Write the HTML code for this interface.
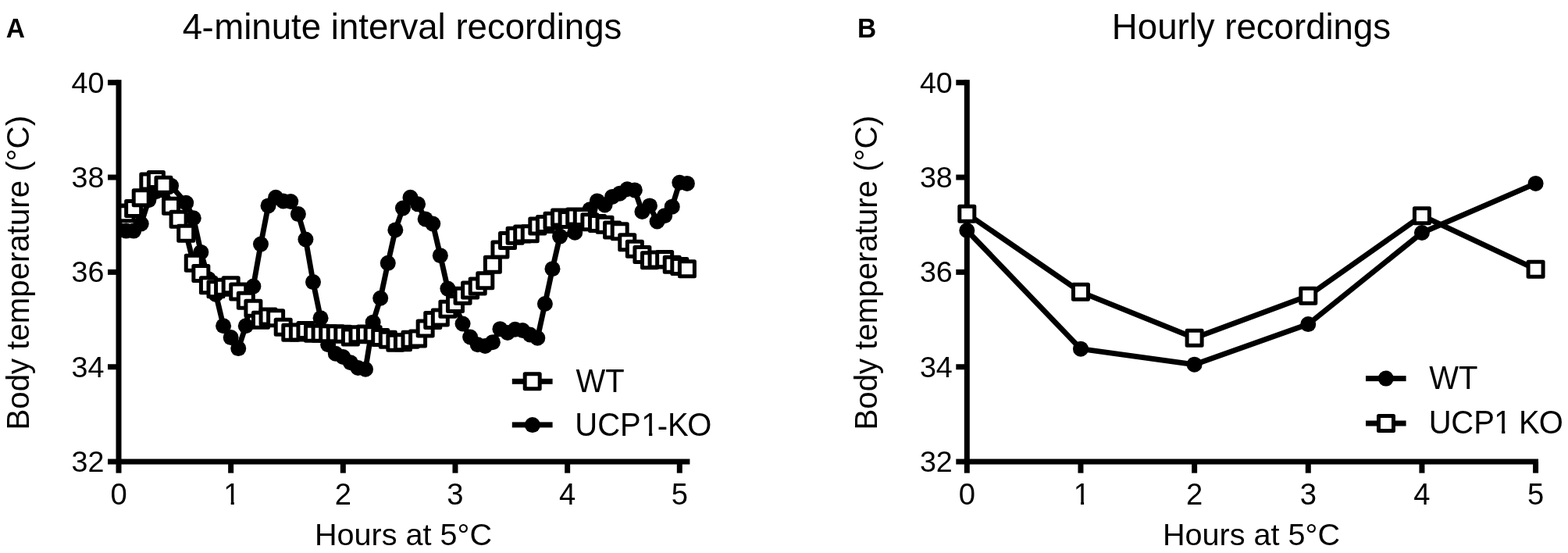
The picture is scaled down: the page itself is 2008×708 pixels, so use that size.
<!DOCTYPE html>
<html lang="en"><head><meta charset="utf-8"><title>Body temperature recordings</title>
<style>html,body{margin:0;padding:0;background:#fff;}svg{display:block;}text{font-family:"Liberation Sans",sans-serif;fill:#000;}</style></head><body>
<svg width="2008" height="708" viewBox="0 0 2008 708">
<rect width="2008" height="708" fill="#fff"/>
<defs><clipPath id="nofoot"><path clip-rule="evenodd" d="M0 0H2008V708H0Z M287.87 642.18h7.83v4.97h-7.83Z M299.79 642.18h7.64v4.97h-7.64Z M822.84 553.90h8.20v5.20h-8.20Z M835.32 553.90h8.00v5.20h-8.00Z M1376.17 642.18h7.83v4.97h-7.83Z M1388.09 642.18h7.64v4.97h-7.64Z M1914.84 550.50h8.20v5.20h-8.20Z M1927.32 550.50h8.00v5.20h-8.00Z"/></clipPath></defs>
<g id="panelA">
<text transform="translate(7.8 48.3) scale(1 1.04)" font-size="33.5" font-weight="bold">A</text>
<text x="515" y="49.6" dx="0 -0.6 0.6" dy="0 1.7 -1.7" font-size="45.6" text-anchor="middle">4-minute interval recordings</text>
<text transform="translate(36.8 349.2) rotate(-90)" font-size="40.2" text-anchor="middle">Body temperature (°C)</text>
<text x="516.5" y="698.4" font-size="39.6" text-anchor="middle">Hours at 5°C</text>
<clipPath id="clipA"><rect x="150" y="0" width="900" height="708"/></clipPath>
<g clip-path="url(#clipA)">
<polyline points="152.00,294.38 161.58,295.60 171.15,295.60 180.73,286.50 190.31,256.16 199.89,245.24 209.46,243.42 219.04,237.66 228.62,248.88 238.20,259.80 247.77,279.22 257.35,322.90 266.93,357.18 276.51,376.89 286.08,417.24 295.66,432.10 305.24,446.06 314.81,417.24 324.39,366.58 333.97,312.58 343.55,263.44 353.12,252.82 362.70,257.38 372.28,257.98 381.86,274.06 391.43,306.52 401.01,361.12 410.59,407.23 420.17,441.21 429.74,452.73 439.32,456.98 448.90,464.26 458.47,470.93 468.05,472.75 477.63,412.69 487.21,381.75 496.78,336.85 506.36,294.38 515.94,266.48 525.52,252.82 535.09,261.32 544.67,280.43 554.25,286.50 563.83,327.15 573.40,369.61 582.98,390.85 592.56,414.51 602.13,431.50 611.71,441.21 621.29,443.03 630.87,438.17 640.44,421.18 650.02,426.04 659.60,421.79 669.18,423.00 678.75,428.46 688.33,432.71 697.91,389.03 707.49,344.13 717.06,302.57 726.64,300.15 736.22,297.72 745.79,282.86 755.37,268.30 764.95,257.38 774.53,262.53 784.10,251.91 793.68,247.67 803.26,242.21 812.84,243.42 822.41,271.03 831.99,263.44 841.57,283.46 851.15,276.18 860.72,264.66 870.30,233.71 879.88,234.93" fill="none" stroke="#000" stroke-width="6.9" stroke-linejoin="round" stroke-linecap="butt"/>
<circle cx="152.00" cy="294.38" r="10.0" fill="#000"/>
<circle cx="161.58" cy="295.60" r="10.0" fill="#000"/>
<circle cx="171.15" cy="295.60" r="10.0" fill="#000"/>
<circle cx="180.73" cy="286.50" r="10.0" fill="#000"/>
<circle cx="190.31" cy="256.16" r="10.0" fill="#000"/>
<circle cx="199.89" cy="245.24" r="10.0" fill="#000"/>
<circle cx="209.46" cy="243.42" r="10.0" fill="#000"/>
<circle cx="219.04" cy="237.66" r="10.0" fill="#000"/>
<circle cx="238.20" cy="259.80" r="10.0" fill="#000"/>
<circle cx="247.77" cy="279.22" r="10.0" fill="#000"/>
<circle cx="257.35" cy="322.90" r="10.0" fill="#000"/>
<circle cx="266.93" cy="357.18" r="10.0" fill="#000"/>
<circle cx="276.51" cy="376.89" r="10.0" fill="#000"/>
<circle cx="286.08" cy="417.24" r="10.0" fill="#000"/>
<circle cx="295.66" cy="432.10" r="10.0" fill="#000"/>
<circle cx="305.24" cy="446.06" r="10.0" fill="#000"/>
<circle cx="314.81" cy="417.24" r="10.0" fill="#000"/>
<circle cx="324.39" cy="366.58" r="10.0" fill="#000"/>
<circle cx="333.97" cy="312.58" r="10.0" fill="#000"/>
<circle cx="343.55" cy="263.44" r="10.0" fill="#000"/>
<circle cx="353.12" cy="252.82" r="10.0" fill="#000"/>
<circle cx="362.70" cy="257.38" r="10.0" fill="#000"/>
<circle cx="372.28" cy="257.98" r="10.0" fill="#000"/>
<circle cx="381.86" cy="274.06" r="10.0" fill="#000"/>
<circle cx="391.43" cy="306.52" r="10.0" fill="#000"/>
<circle cx="401.01" cy="361.12" r="10.0" fill="#000"/>
<circle cx="410.59" cy="407.23" r="10.0" fill="#000"/>
<circle cx="420.17" cy="441.21" r="10.0" fill="#000"/>
<circle cx="429.74" cy="452.73" r="10.0" fill="#000"/>
<circle cx="439.32" cy="456.98" r="10.0" fill="#000"/>
<circle cx="448.90" cy="464.26" r="10.0" fill="#000"/>
<circle cx="458.47" cy="470.93" r="10.0" fill="#000"/>
<circle cx="468.05" cy="472.75" r="10.0" fill="#000"/>
<circle cx="477.63" cy="412.69" r="10.0" fill="#000"/>
<circle cx="487.21" cy="381.75" r="10.0" fill="#000"/>
<circle cx="496.78" cy="336.85" r="10.0" fill="#000"/>
<circle cx="506.36" cy="294.38" r="10.0" fill="#000"/>
<circle cx="515.94" cy="266.48" r="10.0" fill="#000"/>
<circle cx="525.52" cy="252.82" r="10.0" fill="#000"/>
<circle cx="535.09" cy="261.32" r="10.0" fill="#000"/>
<circle cx="544.67" cy="280.43" r="10.0" fill="#000"/>
<circle cx="554.25" cy="286.50" r="10.0" fill="#000"/>
<circle cx="563.83" cy="327.15" r="10.0" fill="#000"/>
<circle cx="573.40" cy="369.61" r="10.0" fill="#000"/>
<circle cx="582.98" cy="390.85" r="10.0" fill="#000"/>
<circle cx="592.56" cy="414.51" r="10.0" fill="#000"/>
<circle cx="602.13" cy="431.50" r="10.0" fill="#000"/>
<circle cx="611.71" cy="441.21" r="10.0" fill="#000"/>
<circle cx="621.29" cy="443.03" r="10.0" fill="#000"/>
<circle cx="630.87" cy="438.17" r="10.0" fill="#000"/>
<circle cx="640.44" cy="421.18" r="10.0" fill="#000"/>
<circle cx="650.02" cy="426.04" r="10.0" fill="#000"/>
<circle cx="659.60" cy="421.79" r="10.0" fill="#000"/>
<circle cx="669.18" cy="423.00" r="10.0" fill="#000"/>
<circle cx="678.75" cy="428.46" r="10.0" fill="#000"/>
<circle cx="688.33" cy="432.71" r="10.0" fill="#000"/>
<circle cx="697.91" cy="389.03" r="10.0" fill="#000"/>
<circle cx="707.49" cy="344.13" r="10.0" fill="#000"/>
<circle cx="717.06" cy="302.57" r="10.0" fill="#000"/>
<circle cx="736.22" cy="297.72" r="10.0" fill="#000"/>
<circle cx="755.37" cy="268.30" r="10.0" fill="#000"/>
<circle cx="764.95" cy="257.38" r="10.0" fill="#000"/>
<circle cx="774.53" cy="262.53" r="10.0" fill="#000"/>
<circle cx="784.10" cy="251.91" r="10.0" fill="#000"/>
<circle cx="793.68" cy="247.67" r="10.0" fill="#000"/>
<circle cx="803.26" cy="242.21" r="10.0" fill="#000"/>
<circle cx="812.84" cy="243.42" r="10.0" fill="#000"/>
<circle cx="822.41" cy="271.03" r="10.0" fill="#000"/>
<circle cx="831.99" cy="263.44" r="10.0" fill="#000"/>
<circle cx="841.57" cy="283.46" r="10.0" fill="#000"/>
<circle cx="851.15" cy="276.18" r="10.0" fill="#000"/>
<circle cx="860.72" cy="264.66" r="10.0" fill="#000"/>
<circle cx="870.30" cy="233.71" r="10.0" fill="#000"/>
<circle cx="879.88" cy="234.93" r="10.0" fill="#000"/>
<polyline points="152.00,272.54 161.58,273.15 171.15,267.08 180.73,253.13 190.31,232.50 199.89,230.07 209.46,236.75 219.04,263.75 228.62,280.73 238.20,298.63 247.77,336.85 257.35,349.90 266.93,365.37 276.51,370.22 286.08,367.79 295.66,365.37 305.24,373.56 314.81,384.78 324.39,394.79 333.97,409.66 343.55,405.41 353.12,407.23 362.70,418.76 372.28,425.73 381.86,425.43 391.43,423.00 401.01,426.64 410.59,426.64 420.17,427.25 429.74,427.25 439.32,427.86 448.90,431.50 458.47,428.16 468.05,427.55 477.63,428.16 487.21,432.10 496.78,434.83 506.36,438.78 515.94,438.17 525.52,434.83 535.09,433.62 544.67,420.58 554.25,409.96 563.83,406.62 573.40,395.70 582.98,389.03 592.56,378.71 602.13,371.43 611.71,366.58 621.29,359.30 630.87,338.67 640.44,319.56 650.02,308.03 659.60,301.66 669.18,299.54 678.75,299.24 688.33,289.53 697.91,287.10 707.49,282.86 717.06,278.61 726.64,281.04 736.22,277.40 745.79,278.00 755.37,284.37 764.95,285.89 774.53,287.71 784.10,294.38 793.68,296.20 803.26,310.16 812.84,318.65 822.41,325.93 831.99,333.21 841.57,332.61 851.15,332.00 860.72,338.67 870.30,341.10 879.88,344.13" fill="none" stroke="#000" stroke-width="6.9" stroke-linejoin="round" stroke-linecap="butt"/>
<rect x="142.50" y="263.04" width="19.0" height="19.0" fill="#fff" stroke="#000" stroke-width="5.0" stroke-linejoin="round"/>
<rect x="152.08" y="263.65" width="19.0" height="19.0" fill="#fff" stroke="#000" stroke-width="5.0" stroke-linejoin="round"/>
<rect x="161.65" y="257.58" width="19.0" height="19.0" fill="#fff" stroke="#000" stroke-width="5.0" stroke-linejoin="round"/>
<rect x="171.23" y="243.63" width="19.0" height="19.0" fill="#fff" stroke="#000" stroke-width="5.0" stroke-linejoin="round"/>
<rect x="180.81" y="223.00" width="19.0" height="19.0" fill="#fff" stroke="#000" stroke-width="5.0" stroke-linejoin="round"/>
<rect x="190.39" y="220.57" width="19.0" height="19.0" fill="#fff" stroke="#000" stroke-width="5.0" stroke-linejoin="round"/>
<rect x="199.96" y="227.25" width="19.0" height="19.0" fill="#fff" stroke="#000" stroke-width="5.0" stroke-linejoin="round"/>
<rect x="209.54" y="254.25" width="19.0" height="19.0" fill="#fff" stroke="#000" stroke-width="5.0" stroke-linejoin="round"/>
<rect x="219.12" y="271.23" width="19.0" height="19.0" fill="#fff" stroke="#000" stroke-width="5.0" stroke-linejoin="round"/>
<rect x="228.70" y="289.13" width="19.0" height="19.0" fill="#fff" stroke="#000" stroke-width="5.0" stroke-linejoin="round"/>
<rect x="238.27" y="327.35" width="19.0" height="19.0" fill="#fff" stroke="#000" stroke-width="5.0" stroke-linejoin="round"/>
<rect x="247.85" y="340.40" width="19.0" height="19.0" fill="#fff" stroke="#000" stroke-width="5.0" stroke-linejoin="round"/>
<rect x="257.43" y="355.87" width="19.0" height="19.0" fill="#fff" stroke="#000" stroke-width="5.0" stroke-linejoin="round"/>
<rect x="267.01" y="360.72" width="19.0" height="19.0" fill="#fff" stroke="#000" stroke-width="5.0" stroke-linejoin="round"/>
<rect x="276.58" y="358.29" width="19.0" height="19.0" fill="#fff" stroke="#000" stroke-width="5.0" stroke-linejoin="round"/>
<rect x="286.16" y="355.87" width="19.0" height="19.0" fill="#fff" stroke="#000" stroke-width="5.0" stroke-linejoin="round"/>
<rect x="295.74" y="364.06" width="19.0" height="19.0" fill="#fff" stroke="#000" stroke-width="5.0" stroke-linejoin="round"/>
<rect x="305.31" y="375.28" width="19.0" height="19.0" fill="#fff" stroke="#000" stroke-width="5.0" stroke-linejoin="round"/>
<rect x="314.89" y="385.29" width="19.0" height="19.0" fill="#fff" stroke="#000" stroke-width="5.0" stroke-linejoin="round"/>
<rect x="324.47" y="400.16" width="19.0" height="19.0" fill="#fff" stroke="#000" stroke-width="5.0" stroke-linejoin="round"/>
<rect x="334.05" y="395.91" width="19.0" height="19.0" fill="#fff" stroke="#000" stroke-width="5.0" stroke-linejoin="round"/>
<rect x="343.62" y="397.73" width="19.0" height="19.0" fill="#fff" stroke="#000" stroke-width="5.0" stroke-linejoin="round"/>
<rect x="353.20" y="409.26" width="19.0" height="19.0" fill="#fff" stroke="#000" stroke-width="5.0" stroke-linejoin="round"/>
<rect x="362.78" y="416.23" width="19.0" height="19.0" fill="#fff" stroke="#000" stroke-width="5.0" stroke-linejoin="round"/>
<rect x="372.36" y="415.93" width="19.0" height="19.0" fill="#fff" stroke="#000" stroke-width="5.0" stroke-linejoin="round"/>
<rect x="381.93" y="413.50" width="19.0" height="19.0" fill="#fff" stroke="#000" stroke-width="5.0" stroke-linejoin="round"/>
<rect x="391.51" y="417.14" width="19.0" height="19.0" fill="#fff" stroke="#000" stroke-width="5.0" stroke-linejoin="round"/>
<rect x="401.09" y="417.14" width="19.0" height="19.0" fill="#fff" stroke="#000" stroke-width="5.0" stroke-linejoin="round"/>
<rect x="410.67" y="417.75" width="19.0" height="19.0" fill="#fff" stroke="#000" stroke-width="5.0" stroke-linejoin="round"/>
<rect x="420.24" y="417.75" width="19.0" height="19.0" fill="#fff" stroke="#000" stroke-width="5.0" stroke-linejoin="round"/>
<rect x="429.82" y="418.36" width="19.0" height="19.0" fill="#fff" stroke="#000" stroke-width="5.0" stroke-linejoin="round"/>
<rect x="439.40" y="422.00" width="19.0" height="19.0" fill="#fff" stroke="#000" stroke-width="5.0" stroke-linejoin="round"/>
<rect x="448.97" y="418.66" width="19.0" height="19.0" fill="#fff" stroke="#000" stroke-width="5.0" stroke-linejoin="round"/>
<rect x="458.55" y="418.05" width="19.0" height="19.0" fill="#fff" stroke="#000" stroke-width="5.0" stroke-linejoin="round"/>
<rect x="468.13" y="418.66" width="19.0" height="19.0" fill="#fff" stroke="#000" stroke-width="5.0" stroke-linejoin="round"/>
<rect x="477.71" y="422.60" width="19.0" height="19.0" fill="#fff" stroke="#000" stroke-width="5.0" stroke-linejoin="round"/>
<rect x="487.28" y="425.33" width="19.0" height="19.0" fill="#fff" stroke="#000" stroke-width="5.0" stroke-linejoin="round"/>
<rect x="496.86" y="429.28" width="19.0" height="19.0" fill="#fff" stroke="#000" stroke-width="5.0" stroke-linejoin="round"/>
<rect x="506.44" y="428.67" width="19.0" height="19.0" fill="#fff" stroke="#000" stroke-width="5.0" stroke-linejoin="round"/>
<rect x="516.02" y="425.33" width="19.0" height="19.0" fill="#fff" stroke="#000" stroke-width="5.0" stroke-linejoin="round"/>
<rect x="525.59" y="424.12" width="19.0" height="19.0" fill="#fff" stroke="#000" stroke-width="5.0" stroke-linejoin="round"/>
<rect x="535.17" y="411.08" width="19.0" height="19.0" fill="#fff" stroke="#000" stroke-width="5.0" stroke-linejoin="round"/>
<rect x="544.75" y="400.46" width="19.0" height="19.0" fill="#fff" stroke="#000" stroke-width="5.0" stroke-linejoin="round"/>
<rect x="554.33" y="397.12" width="19.0" height="19.0" fill="#fff" stroke="#000" stroke-width="5.0" stroke-linejoin="round"/>
<rect x="563.90" y="386.20" width="19.0" height="19.0" fill="#fff" stroke="#000" stroke-width="5.0" stroke-linejoin="round"/>
<rect x="573.48" y="379.53" width="19.0" height="19.0" fill="#fff" stroke="#000" stroke-width="5.0" stroke-linejoin="round"/>
<rect x="583.06" y="369.21" width="19.0" height="19.0" fill="#fff" stroke="#000" stroke-width="5.0" stroke-linejoin="round"/>
<rect x="592.63" y="361.93" width="19.0" height="19.0" fill="#fff" stroke="#000" stroke-width="5.0" stroke-linejoin="round"/>
<rect x="602.21" y="357.08" width="19.0" height="19.0" fill="#fff" stroke="#000" stroke-width="5.0" stroke-linejoin="round"/>
<rect x="611.79" y="349.80" width="19.0" height="19.0" fill="#fff" stroke="#000" stroke-width="5.0" stroke-linejoin="round"/>
<rect x="621.37" y="329.17" width="19.0" height="19.0" fill="#fff" stroke="#000" stroke-width="5.0" stroke-linejoin="round"/>
<rect x="630.94" y="310.06" width="19.0" height="19.0" fill="#fff" stroke="#000" stroke-width="5.0" stroke-linejoin="round"/>
<rect x="640.52" y="298.53" width="19.0" height="19.0" fill="#fff" stroke="#000" stroke-width="5.0" stroke-linejoin="round"/>
<rect x="650.10" y="292.16" width="19.0" height="19.0" fill="#fff" stroke="#000" stroke-width="5.0" stroke-linejoin="round"/>
<rect x="659.68" y="290.04" width="19.0" height="19.0" fill="#fff" stroke="#000" stroke-width="5.0" stroke-linejoin="round"/>
<rect x="669.25" y="289.74" width="19.0" height="19.0" fill="#fff" stroke="#000" stroke-width="5.0" stroke-linejoin="round"/>
<rect x="678.83" y="280.03" width="19.0" height="19.0" fill="#fff" stroke="#000" stroke-width="5.0" stroke-linejoin="round"/>
<rect x="688.41" y="277.60" width="19.0" height="19.0" fill="#fff" stroke="#000" stroke-width="5.0" stroke-linejoin="round"/>
<rect x="697.99" y="273.36" width="19.0" height="19.0" fill="#fff" stroke="#000" stroke-width="5.0" stroke-linejoin="round"/>
<rect x="707.56" y="269.11" width="19.0" height="19.0" fill="#fff" stroke="#000" stroke-width="5.0" stroke-linejoin="round"/>
<rect x="717.14" y="271.54" width="19.0" height="19.0" fill="#fff" stroke="#000" stroke-width="5.0" stroke-linejoin="round"/>
<rect x="726.72" y="267.90" width="19.0" height="19.0" fill="#fff" stroke="#000" stroke-width="5.0" stroke-linejoin="round"/>
<rect x="736.29" y="268.50" width="19.0" height="19.0" fill="#fff" stroke="#000" stroke-width="5.0" stroke-linejoin="round"/>
<rect x="745.87" y="274.87" width="19.0" height="19.0" fill="#fff" stroke="#000" stroke-width="5.0" stroke-linejoin="round"/>
<rect x="755.45" y="276.39" width="19.0" height="19.0" fill="#fff" stroke="#000" stroke-width="5.0" stroke-linejoin="round"/>
<rect x="765.03" y="278.21" width="19.0" height="19.0" fill="#fff" stroke="#000" stroke-width="5.0" stroke-linejoin="round"/>
<rect x="774.60" y="284.88" width="19.0" height="19.0" fill="#fff" stroke="#000" stroke-width="5.0" stroke-linejoin="round"/>
<rect x="784.18" y="286.70" width="19.0" height="19.0" fill="#fff" stroke="#000" stroke-width="5.0" stroke-linejoin="round"/>
<rect x="793.76" y="300.66" width="19.0" height="19.0" fill="#fff" stroke="#000" stroke-width="5.0" stroke-linejoin="round"/>
<rect x="803.34" y="309.15" width="19.0" height="19.0" fill="#fff" stroke="#000" stroke-width="5.0" stroke-linejoin="round"/>
<rect x="812.91" y="316.43" width="19.0" height="19.0" fill="#fff" stroke="#000" stroke-width="5.0" stroke-linejoin="round"/>
<rect x="822.49" y="323.71" width="19.0" height="19.0" fill="#fff" stroke="#000" stroke-width="5.0" stroke-linejoin="round"/>
<rect x="832.07" y="323.11" width="19.0" height="19.0" fill="#fff" stroke="#000" stroke-width="5.0" stroke-linejoin="round"/>
<rect x="841.65" y="322.50" width="19.0" height="19.0" fill="#fff" stroke="#000" stroke-width="5.0" stroke-linejoin="round"/>
<rect x="851.22" y="329.17" width="19.0" height="19.0" fill="#fff" stroke="#000" stroke-width="5.0" stroke-linejoin="round"/>
<rect x="860.80" y="331.60" width="19.0" height="19.0" fill="#fff" stroke="#000" stroke-width="5.0" stroke-linejoin="round"/>
<rect x="870.38" y="334.63" width="19.0" height="19.0" fill="#fff" stroke="#000" stroke-width="5.0" stroke-linejoin="round"/>
</g>
<rect x="148.50" y="102.20" width="7.0" height="503.46" fill="#000"/>
<rect x="138.00" y="587.56" width="745.40" height="7.0" fill="#000"/>
<rect x="138.00" y="102.20" width="14" height="7.0" fill="#000"/>
<rect x="138.00" y="223.54" width="14" height="7.0" fill="#000"/>
<rect x="138.00" y="344.88" width="14" height="7.0" fill="#000"/>
<rect x="138.00" y="466.22" width="14" height="7.0" fill="#000"/>
<rect x="292.16" y="591.06" width="7.0" height="14.6" fill="#000"/>
<rect x="435.82" y="591.06" width="7.0" height="14.6" fill="#000"/>
<rect x="579.48" y="591.06" width="7.0" height="14.6" fill="#000"/>
<rect x="723.14" y="591.06" width="7.0" height="14.6" fill="#000"/>
<rect x="866.80" y="591.06" width="7.0" height="14.6" fill="#000"/>
<text x="133.50" y="118.60" font-size="37.7" text-anchor="end">40</text>
<text x="133.50" y="239.94" font-size="37.7" text-anchor="end">38</text>
<text x="133.50" y="361.28" font-size="37.7" text-anchor="end">36</text>
<text x="133.50" y="482.62" font-size="37.7" text-anchor="end">34</text>
<text x="133.50" y="603.96" font-size="37.7" text-anchor="end">32</text>
<text x="152.00" y="646" font-size="38.2" text-anchor="middle">0</text>
<text x="286.34" y="646" font-size="38.2" clip-path="url(#nofoot)">1</text>
<text x="439.32" y="646" font-size="38.2" text-anchor="middle">2</text>
<text x="582.98" y="646" font-size="38.2" text-anchor="middle">3</text>
<text x="726.64" y="646" font-size="38.2" text-anchor="middle">4</text>
<text x="870.30" y="646" font-size="38.2" text-anchor="middle">5</text>
<rect x="655.8" y="484.8" width="51.8" height="7.0" fill="#000"/>
<rect x="672.20" y="478.70" width="19.0" height="19.0" fill="#fff" stroke="#000" stroke-width="5.0" stroke-linejoin="round"/>
<rect x="655.8" y="540.4" width="51.8" height="7.0" fill="#000"/>
<circle cx="681.9" cy="544.1" r="10.0" fill="#000"/>
<g clip-path="url(#nofoot)"><text transform="translate(0 502) scale(1 1.04)" x="737.50 775.26" y="0" font-size="40">WT</text></g>
<g clip-path="url(#nofoot)"><text transform="translate(0 557.9) scale(1 1.04)" x="736.30 765.18 794.06 821.24 841.68 855.00 880.18" y="0" dy="0 0 0 0 2.2 -2.2" font-size="40">UCP1-KO</text></g>
</g>
<g id="panelB">
<text transform="translate(1098 48.1) scale(1 1.04)" font-size="33.5" font-weight="bold">B</text>
<text x="1602.5" y="49.6" font-size="45.6" text-anchor="middle">Hourly recordings</text>
<text transform="translate(1123.2 349.2) rotate(-90)" font-size="40.2" text-anchor="middle">Body temperature (°C)</text>
<text x="1602.5" y="698.4" font-size="39.6" text-anchor="middle">Hours at 5°C</text>
<rect x="1234.80" y="102.20" width="7.0" height="503.46" fill="#000"/>
<rect x="1224.30" y="587.56" width="745.70" height="7.0" fill="#000"/>
<rect x="1224.30" y="102.20" width="14" height="7.0" fill="#000"/>
<rect x="1224.30" y="223.54" width="14" height="7.0" fill="#000"/>
<rect x="1224.30" y="344.88" width="14" height="7.0" fill="#000"/>
<rect x="1224.30" y="466.22" width="14" height="7.0" fill="#000"/>
<rect x="1380.46" y="591.06" width="7.0" height="14.6" fill="#000"/>
<rect x="1526.12" y="591.06" width="7.0" height="14.6" fill="#000"/>
<rect x="1671.78" y="591.06" width="7.0" height="14.6" fill="#000"/>
<rect x="1817.44" y="591.06" width="7.0" height="14.6" fill="#000"/>
<rect x="1963.10" y="591.06" width="7.0" height="14.6" fill="#000"/>
<text x="1219.80" y="118.60" font-size="37.7" text-anchor="end">40</text>
<text x="1219.80" y="239.94" font-size="37.7" text-anchor="end">38</text>
<text x="1219.80" y="361.28" font-size="37.7" text-anchor="end">36</text>
<text x="1219.80" y="482.62" font-size="37.7" text-anchor="end">34</text>
<text x="1219.80" y="603.96" font-size="37.7" text-anchor="end">32</text>
<text x="1238.30" y="646" font-size="38.2" text-anchor="middle">0</text>
<text x="1374.64" y="646" font-size="38.2" clip-path="url(#nofoot)">1</text>
<text x="1529.62" y="646" font-size="38.2" text-anchor="middle">2</text>
<text x="1675.28" y="646" font-size="38.2" text-anchor="middle">3</text>
<text x="1820.94" y="646" font-size="38.2" text-anchor="middle">4</text>
<text x="1966.60" y="646" font-size="38.2" text-anchor="middle">5</text>
<polyline points="1238.30,294.99 1383.96,446.67 1529.62,466.69 1675.28,415.12 1820.94,298.02 1966.60,234.93" fill="none" stroke="#000" stroke-width="6.9" stroke-linejoin="round" stroke-linecap="butt"/>
<circle cx="1238.30" cy="294.99" r="10.0" fill="#000"/>
<circle cx="1383.96" cy="446.67" r="10.0" fill="#000"/>
<circle cx="1529.62" cy="466.69" r="10.0" fill="#000"/>
<circle cx="1675.28" cy="415.12" r="10.0" fill="#000"/>
<circle cx="1820.94" cy="298.02" r="10.0" fill="#000"/>
<circle cx="1966.60" cy="234.93" r="10.0" fill="#000"/>
<polyline points="1238.30,273.76 1383.96,373.86 1529.62,432.71 1675.28,378.71 1820.94,276.18 1966.60,344.74" fill="none" stroke="#000" stroke-width="6.9" stroke-linejoin="round" stroke-linecap="butt"/>
<rect x="1228.80" y="264.26" width="19.0" height="19.0" fill="#fff" stroke="#000" stroke-width="5.0" stroke-linejoin="round"/>
<rect x="1374.46" y="364.36" width="19.0" height="19.0" fill="#fff" stroke="#000" stroke-width="5.0" stroke-linejoin="round"/>
<rect x="1520.12" y="423.21" width="19.0" height="19.0" fill="#fff" stroke="#000" stroke-width="5.0" stroke-linejoin="round"/>
<rect x="1665.78" y="369.21" width="19.0" height="19.0" fill="#fff" stroke="#000" stroke-width="5.0" stroke-linejoin="round"/>
<rect x="1811.44" y="266.68" width="19.0" height="19.0" fill="#fff" stroke="#000" stroke-width="5.0" stroke-linejoin="round"/>
<rect x="1957.10" y="335.24" width="19.0" height="19.0" fill="#fff" stroke="#000" stroke-width="5.0" stroke-linejoin="round"/>
<rect x="1749" y="481.1" width="51.6" height="7.0" fill="#000"/>
<circle cx="1774.8" cy="484.6" r="10.0" fill="#000"/>
<rect x="1749" y="538.5" width="51.6" height="7.0" fill="#000"/>
<rect x="1765.50" y="532.50" width="19.0" height="19.0" fill="#fff" stroke="#000" stroke-width="5.0" stroke-linejoin="round"/>
<g clip-path="url(#nofoot)"><text transform="translate(0 498.1) scale(1 1.04)" x="1830.30 1868.06" y="0" font-size="40">WT</text></g>
<g clip-path="url(#nofoot)"><text transform="translate(0 554.5) scale(1 1.04)" x="1829.80 1858.38 1887.26 1913.24 1935.48 1945.10 1970.78" y="0" font-size="40">UCP1 KO</text></g>
</g>
</svg></body></html>
